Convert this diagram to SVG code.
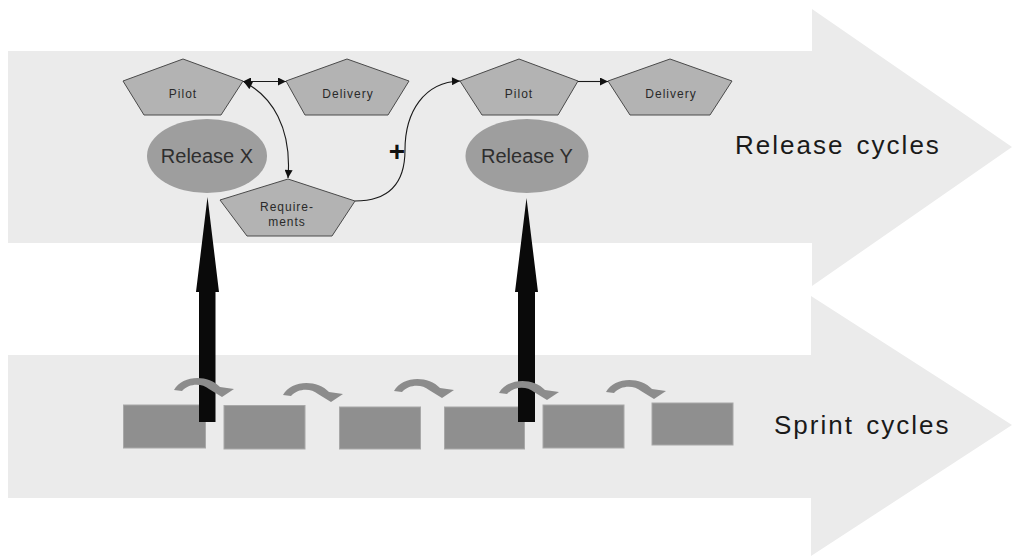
<svg xmlns="http://www.w3.org/2000/svg" width="1012" height="557" viewBox="0 0 1012 557">
  <defs>
    <style>
      .band { fill: #ebebeb; }
      .penta { fill: #b3b3b3; stroke: #4a4a4a; stroke-width: 1; }
      .plabel { font-family: "Liberation Sans", Arial, sans-serif; font-size: 12px; letter-spacing: 1px; fill: #2a2a2a; text-anchor: middle; }
      .rel { fill: #9e9e9e; }
      .rlabel { font-family: "Liberation Sans", Arial, sans-serif; font-size: 20px; fill: #2e2e2e; text-anchor: middle; }
      .title { font-family: "Liberation Sans", Arial, sans-serif; font-size: 26px; letter-spacing: 2px; word-spacing: 3px; fill: #1a1a1a; }
      .sprint { fill: #8f8f8f; stroke: #a8a8a8; stroke-width: 1; }
      .turn { fill: #8c8c8c; }
      .conn { fill: none; stroke: #1a1a1a; stroke-width: 1.1; }
      .big { fill: #0a0a0a; }
    </style>
    <marker id="ah" viewBox="0 0 10 10" refX="10" refY="5" markerUnits="userSpaceOnUse" markerWidth="10" markerHeight="8" orient="auto-start-reverse">
      <path d="M0,0 L10,5 L0,10 z" fill="#111"/>
    </marker>
    <!-- curved hand-over arrow between sprints -->
    <path id="turn" d="M0,0 C8,-15 34,-16 46,-3 L60,-1 L48,7 L35,-1 C28,-7 15,-7 8,1 Z"/>
  </defs>

  <!-- background flow arrows -->
  <g id="release-band">
    <polygon class="band" points="8,51 812,51 812,9 1012,147 812,286 812,243 8,243"/>
    <text class="title" x="735" y="154">Release cycles</text>
  </g>
  <g id="sprint-band">
    <polygon class="band" points="8,355 811,355 811,296 1012,425 811,556 811,498 8,498"/>
    <text class="title" x="774" y="434">Sprint cycles</text>
  </g>

  <!-- sprint boxes -->
  <g id="sprint-1"><rect class="sprint" x="123.5" y="405" width="82" height="43"/></g>
  <g id="sprint-2"><rect class="sprint" x="224" y="405.5" width="81" height="43.5"/></g>
  <g id="sprint-3"><rect class="sprint" x="339.5" y="407" width="81" height="42"/></g>
  <g id="sprint-4"><rect class="sprint" x="444.5" y="407" width="80" height="42"/></g>
  <g id="sprint-5"><rect class="sprint" x="543" y="405" width="81" height="43"/></g>
  <g id="sprint-6"><rect class="sprint" x="652" y="403" width="81" height="42"/></g>

  <!-- release nodes -->
  <g id="pilot-x">
    <polygon class="penta" points="183,59 243,81 221,115 144,115 123,81"/>
    <text class="plabel" x="183" y="97.5">Pilot</text>
  </g>
  <g id="delivery-x">
    <polygon class="penta" points="347,59 409,81 388,115 305,115 286,81"/>
    <text class="plabel" x="348" y="97.5">Delivery</text>
  </g>
  <g id="requirements">
    <polygon class="penta" points="288,179 355,201 332,236 247,236 220,200"/>
    <text class="plabel" x="287" y="210.5">Require-</text>
    <text class="plabel" x="287" y="226">ments</text>
  </g>
  <g id="release-x">
    <ellipse class="rel" cx="207" cy="156" rx="60" ry="37"/>
    <text class="rlabel" x="207" y="162.5">Release X</text>
  </g>
  <g id="pilot-y">
    <polygon class="penta" points="519,59 578,81 558,115 482,115 460,81"/>
    <text class="plabel" x="519" y="97.5">Pilot</text>
  </g>
  <g id="delivery-y">
    <polygon class="penta" points="670,59 732,81 710,115 630,115 608,81"/>
    <text class="plabel" x="671" y="97.5">Delivery</text>
  </g>
  <g id="release-y">
    <ellipse class="rel" cx="527" cy="156" rx="61.5" ry="37"/>
    <text class="rlabel" x="527" y="162.5">Release Y</text>
  </g>

  <!-- connectors -->
  <g id="connectors">
    <line class="conn" x1="243" y1="81.5" x2="286" y2="81.5" marker-start="url(#ah)" marker-end="url(#ah)"/>
    <path class="conn" d="M244,82 C272,96 292,128 288,178" marker-start="url(#ah)" marker-end="url(#ah)"/>
    <path class="conn" d="M355,201 C392,201 405,180 405,150 C405,112 424,82 460,81" marker-end="url(#ah)"/>
    <line class="conn" x1="578" y1="81.5" x2="608" y2="81.5" marker-end="url(#ah)"/>
    <text x="397" y="161" font-family="Liberation Sans, Arial, sans-serif" font-size="28" font-weight="bold" fill="#111" text-anchor="middle">+</text>

    <!-- sprints feeding releases -->
    <polygon class="big" points="207.5,197 219,292 215.5,292 215.5,422 199,422 199,292 196,292"/>
    <polygon class="big" points="526.5,198 538,292 535,292 535,422 518,422 518,292 515,292"/>

    <!-- hand-over between sprints -->
    <use href="#turn" class="turn" x="174" y="390"/>
    <use href="#turn" class="turn" x="283" y="395"/>
    <use href="#turn" class="turn" x="394" y="391"/>
    <use href="#turn" class="turn" x="499" y="393"/>
    <use href="#turn" class="turn" x="606" y="392"/>
  </g>
</svg>
